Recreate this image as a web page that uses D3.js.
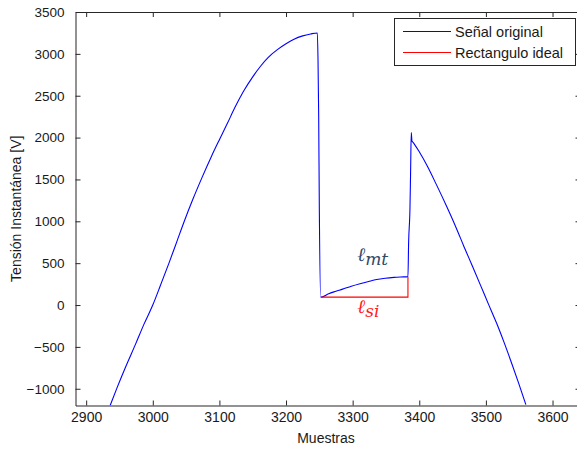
<!DOCTYPE html>
<html>
<head>
<meta charset="utf-8">
<script src="https://cdn.jsdelivr.net/npm/d3@7"></script>
<style>
    body { margin: 0; background: #fff; }
    svg { display: block; font-family: "Liberation Sans", Arial, sans-serif; }
</style>
</head>
<body>
<div id="chart"></div>
<script>
// Señal original (muestra, tension)
const signalSamples = [2936, 2946, 2960, 2974, 2987, 3000, 3012, 3024, 3036, 3047, 3060, 3074, 3088, 3100,
    3112, 3123, 3136, 3150, 3162, 3173, 3187, 3200, 3212, 3225, 3237, 3247, 3248, 3249, 3250, 3252,
    3253, 3264, 3275, 3285, 3298, 3311, 3324, 3336, 3349, 3362, 3372, 3383, 3384, 3386, 3387, 3388,
    3389, 3391, 3400, 3412, 3425, 3441, 3455, 3467, 3480, 3492, 3504, 3516, 3527, 3538, 3549, 3560];
const signalValues = [-1200, -995, -725, -470, -225, 0, 245, 495, 755, 995, 1260, 1525, 1775, 1975,
    2170, 2355, 2550, 2725, 2855, 2955, 3050, 3120, 3175, 3215, 3238, 3250, 2935, 2277, 1143, 95,
    95, 136, 165, 190, 225, 255, 282, 305, 320, 330, 335, 339, 745, 1143, 1600, 2060,
    1960, 1940, 1830, 1660, 1450, 1180, 930, 700, 460, 235, 8, -215, -440, -680, -930, -1190];

// Rectangulo ideal
const rectSamples = [3253, 3383, 3383];
const rectValues = [95, 95, 339];

const xTicks = [2900, 3000, 3100, 3200, 3300, 3400, 3500, 3600];
const yTicks = [-1000, -500, 0, 500, 1000, 1500, 2000, 2500, 3000, 3500];
const legendLabels = ["Señal original", "Rectangulo ideal"];
const seriesColors = ["#0000ff", "#ff0000"];

const width = 577, height = 449;
const margin = { top: 12, right: -3.5, bottom: 43.5, left: 75.5 };
const innerWidth = width - margin.left - margin.right;
const innerHeight = height - margin.top - margin.bottom;

const svg = d3.select("#chart").append("svg")
    .attr("width", width)
    .attr("height", height);

const x = d3.scaleLinear().domain([2884, 3642]).range([0, innerWidth]);
const y = d3.scaleLinear().domain([-1200, 3500]).range([innerHeight, 0]);

const g = svg.append("g")
    .attr("transform", `translate(${margin.left},${margin.top})`);

svg.append("defs").append("clipPath")
    .attr("id", "plot-clip")
    .append("rect")
    .attr("width", innerWidth)
    .attr("height", innerHeight);

// Axes: ticks pointing inward, box on all sides
const axisColor = "#262626";
const fmt = d3.format("d");

const xAxis = g.append("g")
    .attr("transform", `translate(0,${innerHeight})`)
    .call(d3.axisBottom(x).tickValues(xTicks).tickFormat(fmt).tickSizeInner(-5).tickSizeOuter(0).tickPadding(7));
xAxis.selectAll("text").style("font-size", "14px").attr("fill", "#1a1a1a");

const yAxis = g.append("g")
    .call(d3.axisLeft(y).tickValues(yTicks).tickFormat(fmt).tickSizeInner(-5).tickSizeOuter(0).tickPadding(11));
yAxis.selectAll("text").style("font-size", "13.5px").attr("fill", "#1a1a1a");

// Mirror ticks on top and right, no labels
const topAxis = g.append("g")
    .call(d3.axisTop(x).tickValues(xTicks).tickSizeInner(-5).tickSizeOuter(0));
topAxis.selectAll("text").remove();
const rightAxis = g.append("g")
    .attr("transform", `translate(${innerWidth},0)`)
    .call(d3.axisRight(y).tickValues(yTicks).tickSizeInner(-5).tickSizeOuter(0));
rightAxis.selectAll("text").remove();

g.selectAll(".domain, .tick line").attr("stroke", axisColor);

// Axis labels
svg.append("text")
    .attr("x", 326)
    .attr("y", 443)
    .attr("text-anchor", "middle")
    .style("font-size", "14px")
    .attr("fill", "#1a1a1a")
    .text("Muestras");

svg.append("text")
    .attr("transform", `translate(21,${margin.top + innerHeight / 2}) rotate(-90)`)
    .attr("text-anchor", "middle")
    .style("font-size", "14px")
    .attr("fill", "#1a1a1a")
    .text("Tensión Instantánea [V]");

// Lines
const line = d3.line()
    .x(d => x(d[0]))
    .y(d => y(d[1]))
    .curve(d3.curveMonotoneX);

const plot = g.append("g").attr("clip-path", "url(#plot-clip)");

plot.append("path")
    .datum(d3.zip(signalSamples, signalValues))
    .attr("d", line)
    .attr("fill", "none")
    .attr("stroke", seriesColors[0])
    .attr("stroke-width", 1.1);

plot.append("path")
    .datum(d3.zip(rectSamples, rectValues))
    .attr("d", line.curve(d3.curveLinear))
    .attr("fill", "none")
    .attr("stroke", seriesColors[1])
    .attr("stroke-width", 1.1);

// Annotations
const mt = g.append("text")
    .attr("x", x(3307))
    .attr("y", y(520))
    .style("font-family", "'DejaVu Serif', serif")
    .style("font-style", "italic")
    .style("font-size", "19px")
    .attr("fill", "#2f4a6b");
mt.append("tspan").text("ℓ");
mt.append("tspan").attr("dy", 4).style("font-size", "17px").text("mt");

const si = g.append("text")
    .attr("x", x(3307))
    .attr("y", y(-100))
    .style("font-family", "'DejaVu Serif', serif")
    .style("font-style", "italic")
    .style("font-size", "19px")
    .attr("fill", "#ff1a1a");
si.append("tspan").text("ℓ");
si.append("tspan").attr("dy", 4).style("font-size", "17px").text("si");

// Legend
const legend = svg.append("g").attr("transform", "translate(394,18)");

legend.append("rect")
    .attr("x", 0.5)
    .attr("y", 0.5)
    .attr("width", 181)
    .attr("height", 47)
    .attr("fill", "#fff")
    .attr("stroke", axisColor);

legendLabels.forEach((label, i) => {
    legend.append("line")
        .attr("x1", 9)
        .attr("x2", 57)
        .attr("y1", 13.5 + i * 21)
        .attr("y2", 13.5 + i * 21)
        .attr("stroke", seriesColors[i])
        .attr("stroke-width", 1.1);

    legend.append("text")
        .attr("x", 61)
        .attr("y", 18.5 + i * 21)
        .style("font-size", "14.5px")
        .attr("fill", "#1a1a1a")
        .text(label);
});
</script>
</body>
</html>
